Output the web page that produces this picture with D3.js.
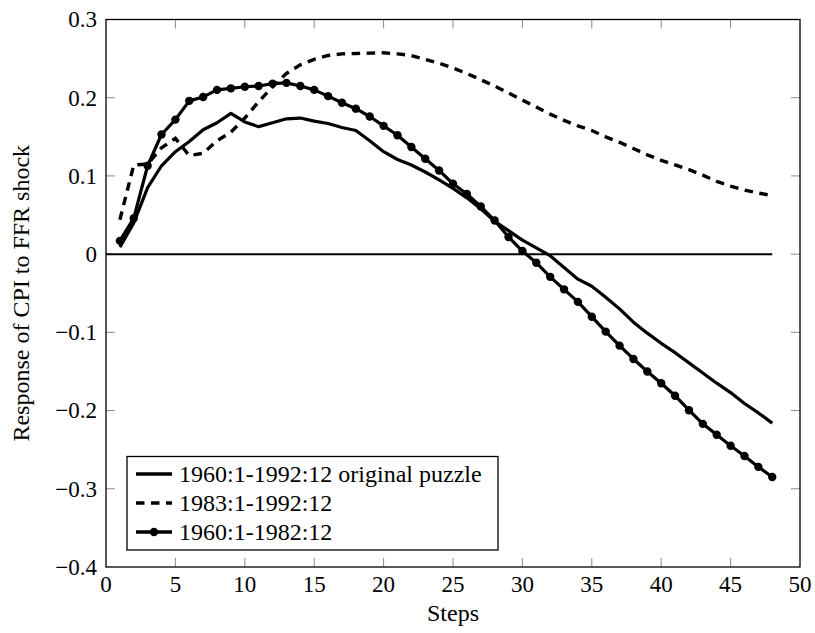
<!DOCTYPE html>
<html>
<head>
<meta charset="utf-8">
<script src="https://cdn.jsdelivr.net/npm/d3@7"></script>
<style>
  html, body { margin: 0; padding: 0; background: #fff; }
  svg { display: block; }
</style>
</head>
<body>
<svg id="chart" width="815" height="633"></svg>
<script>
// ---- data ----
const steps = [1,2,3,4,5,6,7,8,9,10,11,12,13,14,15,16,17,18,19,20,21,22,23,24,
               25,26,27,28,29,30,31,32,33,34,35,36,37,38,39,40,41,42,43,44,45,46,47,48];

const seriesNames = ["1960:1-1992:12 original puzzle", "1983:1-1992:12", "1960:1-1982:12"];

const original = [0.009,0.040,0.085,0.113,0.131,0.144,0.159,0.168,0.180,0.169,0.163,0.168,
                  0.173,0.174,0.170,0.167,0.162,0.158,0.145,0.131,0.121,0.114,0.105,0.095,
                  0.084,0.072,0.058,0.042,0.030,0.018,0.008,-0.002,-0.017,-0.032,-0.041,-0.055,
                  -0.070,-0.087,-0.101,-0.114,-0.126,-0.139,-0.152,-0.165,-0.177,-0.191,-0.203,-0.216];

const late = [0.044,0.114,0.115,0.136,0.148,0.126,0.129,0.145,0.156,0.174,0.195,0.214,
              0.231,0.242,0.249,0.254,0.256,0.2566,0.257,0.2574,0.256,0.254,0.249,0.244,
              0.238,0.231,0.223,0.215,0.206,0.197,0.188,0.179,0.171,0.164,0.158,0.150,
              0.143,0.135,0.127,0.120,0.114,0.108,0.101,0.093,0.087,0.082,0.078,0.075];

const early = [0.017,0.046,0.113,0.153,0.172,0.196,0.201,0.210,0.212,0.214,0.215,0.218,
               0.219,0.215,0.210,0.202,0.1935,0.186,0.176,0.164,0.152,0.137,0.122,0.107,
               0.090,0.077,0.061,0.043,0.022,0.004,-0.011,-0.029,-0.045,-0.061,-0.080,-0.099,
               -0.117,-0.134,-0.150,-0.165,-0.181,-0.1995,-0.217,-0.231,-0.245,-0.258,-0.272,-0.285];

const xTicks = [0,5,10,15,20,25,30,35,40,45,50];
const yTicks = [-0.4,-0.3,-0.2,-0.1,0,0.1,0.2,0.3];
const zeroLine = [0, 48];

const xLabel = "Steps";
const yLabel = "Response of CPI to FFR shock";

// ---- layout ----
const FONT = "'Liberation Serif', 'Times New Roman', Tinos, Times, 'DejaVu Serif', serif";
const L = 106, R = 800, T = 19.5, B = 567;
const svg = d3.select("#chart");
const x = d3.scaleLinear().domain([0, 50]).range([L, R]);
const y = d3.scaleLinear().domain([-0.4, 0.3]).range([B, T]);

const fmtY = v => v === 0 ? "0" : d3.format(".1f")(v).replace("-", "\u2212");

// ticks (inward, mirrored)
const tickLen = 9;
const tickG = svg.append("g").attr("stroke", "#8a8a8a").attr("stroke-width", 1);
xTicks.forEach(t => {
  if (t === 0 || t === 50) return;
  tickG.append("line").attr("x1", x(t)).attr("x2", x(t)).attr("y1", B).attr("y2", B - tickLen);
  tickG.append("line").attr("x1", x(t)).attr("x2", x(t)).attr("y1", T).attr("y2", T + tickLen);
});
yTicks.forEach(t => {
  if (t === -0.4 || t === 0.3) return;
  tickG.append("line").attr("x1", L).attr("x2", L + tickLen).attr("y1", y(t)).attr("y2", y(t));
  tickG.append("line").attr("x1", R).attr("x2", R - tickLen).attr("y1", y(t)).attr("y2", y(t));
});

// tick labels
svg.append("g").selectAll("text").data(xTicks).join("text")
  .attr("x", d => x(d)).attr("y", 592)
  .attr("font-family", FONT)
  .attr("text-anchor", "middle").attr("font-size", 23)
  .text(d => d);
svg.append("g").selectAll("text").data(yTicks).join("text")
  .attr("x", 97).attr("y", d => y(d)).attr("dy", "0.34em")
  .attr("font-family", FONT)
  .attr("text-anchor", "end").attr("font-size", 23)
  .text(fmtY);

// axis labels
svg.append("text").attr("x", (L + R) / 2).attr("y", 621)
  .attr("font-family", FONT)
  .attr("text-anchor", "middle").attr("font-size", 24).text(xLabel);
svg.append("text")
  .attr("transform", `translate(29,${(T + B) / 2}) rotate(-90)`)
  .attr("font-family", FONT)
  .attr("text-anchor", "middle").attr("font-size", 24).text(yLabel);

// zero line
svg.append("line")
  .attr("x1", x(zeroLine[0])).attr("x2", x(zeroLine[1]))
  .attr("y1", y(0)).attr("y2", y(0))
  .attr("stroke", "#000").attr("stroke-width", 2);

// series
const line = d3.line().x((d, i) => x(steps[i])).y(d => y(d));
svg.append("path").datum(original).attr("d", line)
  .attr("fill", "none").attr("stroke", "#000").attr("stroke-width", 3.2)
  .attr("stroke-linejoin", "round");
svg.append("path").datum(late).attr("d", line)
  .attr("fill", "none").attr("stroke", "#000").attr("stroke-width", 3.4)
  .attr("stroke-dasharray", "8.5,6.5");
svg.append("path").datum(early).attr("d", line)
  .attr("fill", "none").attr("stroke", "#000").attr("stroke-width", 3.2)
  .attr("stroke-linejoin", "round");
svg.append("g").selectAll("circle").data(early).join("circle")
  .attr("cx", (d, i) => x(steps[i])).attr("cy", d => y(d)).attr("r", 4.2)
  .attr("fill", "#000");

// frame
svg.append("rect").attr("x", L).attr("y", T).attr("width", R - L).attr("height", B - T)
  .attr("fill", "none").attr("stroke", "#000").attr("stroke-width", 1.3);

// legend
const lg = svg.append("g");
lg.append("rect").attr("x", 127).attr("y", 456.5).attr("width", 371).attr("height", 93.5)
  .attr("fill", "#fff").attr("stroke", "#000").attr("stroke-width", 1.3);
const rowsY = [474, 503, 532];
const styles = [
  {dash: null, marker: false},
  {dash: "8.5,6.5", marker: false},
  {dash: null, marker: true}
];
seriesNames.forEach((name, i) => {
  const ly = rowsY[i];
  const ln = lg.append("line").attr("x1", 136).attr("x2", 172).attr("y1", ly).attr("y2", ly)
    .attr("stroke", "#000").attr("stroke-width", 3.4);
  if (styles[i].dash) ln.attr("stroke-dasharray", styles[i].dash);
  if (styles[i].marker) lg.append("circle").attr("cx", 154).attr("cy", ly).attr("r", 4.2).attr("fill", "#000");
  lg.append("text").attr("x", 179).attr("y", ly).attr("dy", "0.34em")
    .attr("font-family", FONT)
    .attr("font-size", 24).text(name);
});
</script>
</body>
</html>
